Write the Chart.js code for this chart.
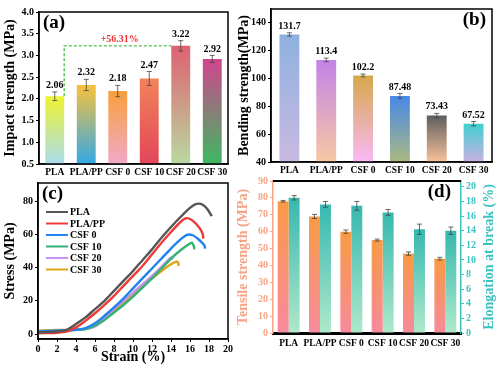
<!DOCTYPE html>
<html>
<head>
<meta charset="utf-8">
<script src="https://cdn.jsdelivr.net/npm/chart.js@4.4.1/dist/chart.umd.min.js"></script>
<style>
  body { margin: 0; background: #fff; }
  #wrap { position: relative; width: 500px; height: 370px; }
  #wrap canvas { position: absolute; left: 0; top: 0; }
</style>
</head>
<body>
<div id="wrap">
  <canvas id="chartA" width="500" height="370"></canvas>
  <canvas id="chartB" width="500" height="370"></canvas>
  <canvas id="chartC" width="500" height="370"></canvas>
  <canvas id="chartD" width="500" height="370"></canvas>
</div>
<script>
// categories shared by the bar panels
const samples = ['PLA', 'PLA/PP', 'CSF 0', 'CSF 10', 'CSF 20', 'CSF 30'];

// (a) impact strength
const impact = [2.06, 2.32, 2.18, 2.47, 3.22, 2.92];
const impactErr = [0.10, 0.13, 0.13, 0.16, 0.12, 0.08];
const impactTicks = [0.5, 1.0, 1.5, 2.0, 2.5, 3.0, 3.5, 4.0];
const impactGain = '+56.31%';

// (b) bending strength
const bending = [131.7, 113.4, 102.2, 87.48, 73.43, 67.52];
const bendingErr = [1.2, 1.3, 1.0, 1.8, 1.5, 1.6];
const bendingTicks = [40, 60, 80, 100, 120, 140];

// (c) stress-strain curves
const curveNames = ['PLA', 'PLA/PP', 'CSF 0', 'CSF 10', 'CSF 20', 'CSF 30'];
const plaStrain = [0, 1, 2, 3, 4, 5, 6, 7, 8, 9, 10, 11, 12, 13, 14, 15, 16, 16.5, 16.9, 17.3, 17.8, 18.3];
const plaStress = [1, 1.2, 1.5, 2.5, 6, 10, 15, 20, 26, 32, 38, 44.5, 51, 58, 64.5, 70.5, 76, 78, 78.6, 78, 75.5, 71];
const plappStrain = [0, 1, 2, 3, 4, 5, 6, 7, 8, 9, 10, 11, 12, 13, 14, 15, 15.6, 16.1, 16.7, 17.1, 17.35, 17.4];
const plappStress = [0.5, 0.6, 0.8, 1.5, 4, 8, 12.5, 17.5, 23, 29, 35, 41, 48, 55, 61.5, 67.5, 69.8, 69, 66, 63, 60, 57.5];
const csf0Strain = [0, 1, 2, 3, 4, 5, 6, 7, 8, 9, 10, 11, 12, 13, 14, 15, 15.7, 16.3, 17, 17.5, 17.6];
const csf0Stress = [1.5, 1.8, 2, 2.2, 2.5, 3.5, 6.5, 11, 16, 21.5, 27.5, 33.5, 39.5, 45.5, 51.5, 57, 59.8, 59.5, 56.5, 53.5, 51.5];
const csf10Strain = [0, 1, 2, 3, 4, 5, 6, 7, 8, 9, 10, 11, 12, 13, 14, 15, 15.8, 16.2, 16.4, 16.45];
const csf10Stress = [1.5, 1.8, 2, 2.2, 2.5, 3, 5, 8.5, 13, 17.5, 22.5, 28, 33.5, 39.5, 45.5, 50.5, 53.8, 55, 53, 51];
const csf20Strain = [0, 1, 2, 3, 4, 5, 6, 7, 8, 9, 10, 11, 12, 13, 13.6, 14, 14.2];
const csf20Stress = [1.5, 1.7, 2, 2.2, 2.5, 3, 4.5, 9.5, 15, 20, 25, 30, 35, 40.5, 44, 46, 45];
const csf30Strain = [0, 1, 2, 3, 4, 5, 6, 7, 8, 9, 10, 11, 12, 13, 14, 14.5, 14.75, 14.8];
const csf30Stress = [2, 2.2, 2.5, 2.5, 2.6, 3, 5.5, 9.5, 14, 18.5, 23.5, 28.5, 33.5, 38, 42, 43.5, 43, 41];

// (d) tensile strength and elongation
const tensile = [78, 69, 60, 55, 47, 44];
const tensileErr = [0.5, 1.2, 1.0, 0.6, 1.0, 0.8];
const elongation = [18.5, 17.6, 17.4, 16.5, 14.2, 14.0];
const elongationErr = [0.3, 0.4, 0.6, 0.4, 0.7, 0.5];

Chart.defaults.font.family = "'Liberation Serif', 'Times New Roman', serif";
Chart.defaults.font.weight = 'bold';
Chart.defaults.font.size = 10;
Chart.defaults.color = '#000';

const SALMON = '#f7a385';
const TEAL = '#3cc2c0';

function gradientFill(tops, bottoms) {
  return ctx => {
    const i = ctx.dataIndex;
    if (i === undefined) return tops[0];
    const chart = ctx.chart;
    const area = chart.chartArea;
    if (!area) return tops[i];
    const scale = chart.scales[ctx.dataset.yAxisID || 'y'];
    const yTop = scale.getPixelForValue(ctx.dataset.data[i]);
    const g = chart.ctx.createLinearGradient(0, yTop, 0, area.bottom);
    g.addColorStop(0, tops[i]);
    g.addColorStop(1, bottoms[i]);
    return g;
  };
}

// whiskers + optional value text above each bar
const errorBars = {
  id: 'errorBars',
  afterDatasetsDraw(chart) {
    const c = chart.ctx;
    chart.data.datasets.forEach((ds, i) => {
      if (!ds.errors) return;
      const meta = chart.getDatasetMeta(i);
      const scale = chart.scales[meta.yAxisID];
      meta.data.forEach((bar, j) => {
        const v = ds.data[j], e = ds.errors[j];
        const yHi = scale.getPixelForValue(v + e);
        const yLo = scale.getPixelForValue(v - e);
        c.save();
        c.strokeStyle = '#444';
        c.lineWidth = 0.8;
        c.beginPath();
        c.moveTo(bar.x, yHi); c.lineTo(bar.x, yLo);
        c.moveTo(bar.x - 2.5, yHi); c.lineTo(bar.x + 2.5, yHi);
        c.moveTo(bar.x - 2.5, yLo); c.lineTo(bar.x + 2.5, yLo);
        c.stroke();
        if (ds.showValues) {
          c.fillStyle = '#000';
          c.font = "bold 10px 'Liberation Serif'";
          c.textAlign = 'center';
          c.textBaseline = 'bottom';
          c.fillText(String(v), bar.x, yHi - 1.5);
        }
        c.restore();
      });
    });
  }
};

function frame(color, width) {
  return {
    id: 'frame',
    afterDraw(chart) {
      const a = chart.chartArea, c = chart.ctx;
      c.save();
      c.strokeStyle = color;
      c.lineWidth = width;
      c.strokeRect(a.left, a.top, a.right - a.left, a.bottom - a.top);
      c.restore();
    }
  };
}

function panelTag(text, dx, dy) {
  return {
    id: 'panelTag',
    afterDraw(chart) {
      const a = chart.chartArea, c = chart.ctx;
      c.save();
      c.font = "bold 19px 'Liberation Serif'";
      c.fillStyle = '#000';
      c.textBaseline = 'top';
      c.textAlign = dx < 0 ? 'right' : 'left';
      c.fillText(text, dx < 0 ? a.right + dx : a.left + dx, a.top + dy);
      c.restore();
    }
  };
}

function keepTicks(values) {
  return scale => { scale.ticks = values.map(v => ({ value: v })); };
}

const axisGrid = { display: true, drawOnChartArea: false, drawTicks: true, tickLength: 3, color: '#000', lineWidth: 1 };
const axisBorder = { display: true, color: '#000', width: 1.5 };
const noGrid = { display: false, drawTicks: false, tickLength: 0 };

// ---------- (a) ----------
new Chart(document.getElementById('chartA'), {
  type: 'bar',
  data: {
    labels: samples,
    datasets: [{
      data: impact,
      errors: impactErr,
      showValues: true,
      backgroundColor: gradientFill(
        ['#eef22e', '#f9c13c', '#f8a03c', '#f2835a', '#df6170', '#d0458e'],
        ['#a9dcef', '#34a8e6', '#f0a9c9', '#e2465a', '#b9d9a0', '#3fb861']),
      categoryPercentage: 1,
      barPercentage: 0.6
    }]
  },
  options: {
    responsive: false, animation: false, devicePixelRatio: 1,
    layout: { padding: { left: 0, top: 12, right: 272, bottom: 188 } },
    plugins: { legend: { display: false }, tooltip: { enabled: false } },
    scales: {
      x: {
        grid: noGrid, border: axisBorder,
        ticks: { padding: 3, maxRotation: 0, autoSkip: false, font: { size: 9.5, weight: 'bold' } },
        afterFit: s => { s.height = 18; }
      },
      y: {
        min: 0.5, max: 4.0,
        grid: axisGrid, border: axisBorder,
        afterBuildTicks: keepTicks(impactTicks),
        ticks: { padding: 2, callback: v => v.toFixed(1) },
        title: { display: true, text: 'Impact strength (MPa)', font: { size: 14, weight: 'bold' }, padding: { top: 2 } },
        afterFit: s => { s.width = 39; }
      }
    }
  },
  plugins: [errorBars, frame('#000', 1.5), panelTag('(a)', 4, 2), {
    id: 'gainLine',
    afterDatasetsDraw(chart) {
      const meta = chart.getDatasetMeta(0);
      const y = chart.scales.y;
      const first = meta.data[0], best = meta.data[4];
      const x0 = first.x + first.width / 2;
      const x1 = best.x - best.width / 2;
      const yLow = y.getPixelForValue(impact[0]);
      const yHigh = y.getPixelForValue(impact[4]);
      const c = chart.ctx;
      c.save();
      c.strokeStyle = '#4cc04c';
      c.lineWidth = 1.4;
      c.setLineDash([3, 2]);
      c.beginPath();
      c.moveTo(x0, yLow); c.lineTo(x0, yHigh); c.lineTo(x1, yHigh);
      c.stroke();
      c.setLineDash([]);
      c.fillStyle = '#f03232';
      c.font = "bold 10px 'Liberation Serif'";
      c.textAlign = 'center';
      c.textBaseline = 'bottom';
      c.fillText(impactGain, (x0 + x1) / 2 + 2, yHigh - 1);
      c.restore();
    }
  }]
});

// ---------- (b) ----------
new Chart(document.getElementById('chartB'), {
  type: 'bar',
  data: {
    labels: samples,
    datasets: [{
      data: bending,
      errors: bendingErr,
      showValues: true,
      backgroundColor: gradientFill(
        ['#8fb1e0', '#c283e8', '#d6a84a', '#4888e6', '#5e5e5e', '#3fd0d0'],
        ['#c9b9e1', '#f8c8a2', '#f8b9f6', '#a9b982', '#f8c29a', '#c9b1e1']),
      categoryPercentage: 1,
      barPercentage: 0.54
    }]
  },
  options: {
    responsive: false, animation: false, devicePixelRatio: 1,
    layout: { padding: { left: 234, top: 9, right: 8, bottom: 190 } },
    plugins: { legend: { display: false }, tooltip: { enabled: false } },
    scales: {
      x: {
        grid: noGrid, border: axisBorder,
        ticks: { padding: 3, maxRotation: 0, autoSkip: false, font: { size: 9.5, weight: 'bold' } },
        afterFit: s => { s.height = 18; }
      },
      y: {
        min: 40, max: 150,
        grid: axisGrid, border: axisBorder,
        afterBuildTicks: keepTicks(bendingTicks),
        ticks: { padding: 2 },
        title: { display: true, text: 'Bending strength(MPa)', font: { size: 14, weight: 'bold' }, padding: { top: 2 } },
        afterFit: s => { s.width = 37; }
      }
    }
  },
  plugins: [errorBars, frame('#000', 1.5), panelTag('(b)', -6, 2)]
});

// ---------- (c) ----------
const curveStrains = [plaStrain, plappStrain, csf0Strain, csf10Strain, csf20Strain, csf30Strain];
const curveStresses = [plaStress, plappStress, csf0Stress, csf10Stress, csf20Stress, csf30Stress];
const curveColors = ['#555555', '#f03a3a', '#2282f0', '#34b272', '#c792f0', '#e0a614'];

new Chart(document.getElementById('chartC'), {
  type: 'scatter',
  data: {
    datasets: curveNames.map((name, k) => ({
      label: name,
      data: curveStrains[k].map((x, j) => ({ x: x, y: curveStresses[k][j] })),
      showLine: true,
      borderColor: curveColors[k],
      borderWidth: 2.4,
      pointRadius: 0,
      tension: 0.3
    }))
  },
  options: {
    responsive: false, animation: false, devicePixelRatio: 1,
    layout: { padding: { left: 0, top: 183, right: 272, bottom: 4 } },
    plugins: { legend: { display: false }, tooltip: { enabled: false } },
    scales: {
      x: {
        min: 0, max: 20,
        grid: axisGrid, border: axisBorder,
        ticks: { stepSize: 2, padding: 1 },
        title: { display: true, text: 'Strain (%)', font: { size: 14, weight: 'bold' }, padding: 0 },
        afterFit: s => { s.height = 27; }
      },
      y: {
        min: -3, max: 91,
        grid: axisGrid, border: axisBorder,
        afterBuildTicks: keepTicks([0, 20, 40, 60, 80]),
        ticks: { padding: 2 },
        title: { display: true, text: 'Stress (MPa)', font: { size: 14, weight: 'bold' }, padding: { top: 2 } },
        afterFit: s => { s.width = 38; }
      }
    }
  },
  plugins: [frame('#000', 1.5), panelTag('(c)', 4, 2), {
    id: 'curveKey',
    afterDraw(chart) {
      const a = chart.chartArea, c = chart.ctx;
      c.save();
      c.font = "bold 10px 'Liberation Serif'";
      c.textBaseline = 'middle';
      c.textAlign = 'left';
      chart.data.datasets.forEach((ds, k) => {
        const y = a.top + 29 + k * 11.5;
        c.strokeStyle = ds.borderColor;
        c.lineWidth = 2;
        c.beginPath();
        c.moveTo(a.left + 8, y); c.lineTo(a.left + 30, y);
        c.stroke();
        c.fillStyle = '#000';
        c.fillText(ds.label, a.left + 32, y + 0.5);
      });
      c.restore();
    }
  }]
});

// ---------- (d) ----------
const tensileTop = samples.map(() => '#f99a44');
const tensileBottom = samples.map(() => '#f78a9c');
const elongTop = samples.map(() => '#37b8b0');
const elongBottom = samples.map(() => '#aee9ca');

new Chart(document.getElementById('chartD'), {
  type: 'bar',
  data: {
    labels: samples,
    datasets: [{
      data: tensile,
      errors: tensileErr,
      yAxisID: 'y',
      backgroundColor: gradientFill(tensileTop, tensileBottom),
      categoryPercentage: 0.7,
      barPercentage: 1
    }, {
      data: elongation,
      errors: elongationErr,
      yAxisID: 'y2',
      backgroundColor: gradientFill(elongTop, elongBottom),
      categoryPercentage: 0.7,
      barPercentage: 1
    }]
  },
  options: {
    responsive: false, animation: false, devicePixelRatio: 1,
    layout: { padding: { left: 233, top: 181, right: 2, bottom: 17 } },
    plugins: { legend: { display: false }, tooltip: { enabled: false } },
    scales: {
      x: {
        grid: noGrid, border: { display: true, color: '#000', width: 3 },
        ticks: { padding: 5, maxRotation: 0, autoSkip: false, font: { size: 9.5, weight: 'bold' } },
        afterFit: s => { s.height = 20; }
      },
      y: {
        position: 'left', min: 0, max: 90,
        grid: { display: true, drawOnChartArea: false, tickLength: 3, color: SALMON },
        border: { display: true, color: SALMON, width: 1.5 },
        ticks: { stepSize: 10, padding: 2, color: SALMON },
        title: { display: true, text: 'Tensile strength (MPa)', color: SALMON, font: { size: 14, weight: 'bold' }, padding: { top: 2 } },
        afterFit: s => { s.width = 40; }
      },
      y2: {
        position: 'right', min: 0, max: 20.8,
        grid: { display: true, drawOnChartArea: false, tickLength: 3, color: TEAL },
        border: { display: true, color: TEAL, width: 1.5 },
        afterBuildTicks: keepTicks([0, 2, 4, 6, 8, 10, 12, 14, 16, 18, 20]),
        ticks: { padding: 2, color: TEAL },
        afterFit: s => { s.width = 37; }
      }
    }
  },
  plugins: [errorBars, panelTag('(d)', -10, 2), {
    id: 'dFrame',
    afterDraw(chart) {
      const a = chart.chartArea, c = chart.ctx;
      c.save();
      c.strokeStyle = '#000';
      c.lineWidth = 2;
      c.beginPath();
      c.moveTo(a.left, a.top); c.lineTo(a.right, a.top);
      c.stroke();
      // right axis title, read from bottom to top
      c.translate(a.right + 28, (a.top + a.bottom) / 2);
      c.rotate(-Math.PI / 2);
      c.fillStyle = TEAL;
      c.font = "bold 14px 'Liberation Serif'";
      c.textAlign = 'center';
      c.textBaseline = 'middle';
      c.fillText('Elongation at break (%)', 0, 0);
      c.restore();
    }
  }]
});
</script>
</body>
</html>
